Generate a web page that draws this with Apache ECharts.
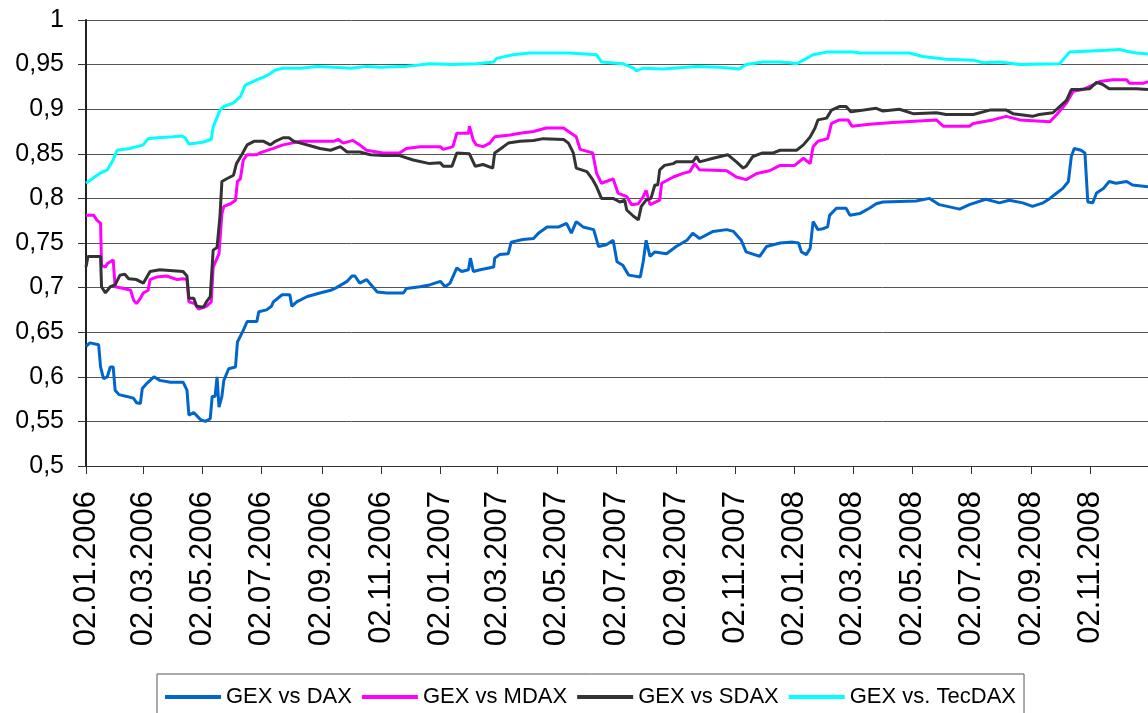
<!DOCTYPE html>
<html>
<head>
<meta charset="utf-8">
<script src="https://cdn.jsdelivr.net/npm/echarts@6/dist/echarts.min.js"></script>
<style>
html,body{margin:0;padding:0;background:#fff;}
#c{width:1148px;height:713px;}
</style>
</head>
<body>
<div id="c"></div>
<script>
// x values: calendar days since 02.01.2006
const tickDays = [0,59,120,181,243,304,365,424,485,546,608,669,730,790,851,912,974,1035];
const tickLabels = ['02.01.2006','02.03.2006','02.05.2006','02.07.2006','02.09.2006','02.11.2006',
  '02.01.2007','02.03.2007','02.05.2007','02.07.2007','02.09.2007','02.11.2007',
  '02.01.2008','02.03.2008','02.05.2008','02.07.2008','02.09.2008','02.11.2008'];
const seriesNames = ['GEX vs DAX','GEX vs MDAX','GEX vs SDAX','GEX vs. TecDAX'];

const gexDax = [[0,0.634],[4,0.638],[13,0.636],[15,0.611],[18,0.598],[22,0.600],[25,0.611],[28,0.611],[30,0.585],[34,0.580],[42,0.578],[49,0.576],[52,0.571],[56,0.570],[58,0.587],[63,0.593],[70,0.600],[76,0.596],[87,0.594],[100,0.594],[104,0.585],[106,0.557],[111,0.560],[118,0.552],[123,0.550],[128,0.553],[130,0.578],[133,0.578],[135,0.600],[137,0.566],[140,0.578],[142,0.596],[147,0.609],[154,0.611],[156,0.639],[162,0.652],[166,0.662],[176,0.662],[178,0.673],[186,0.675],[191,0.679],[193,0.684],[202,0.692],[210,0.692],[212,0.679],[217,0.684],[228,0.690],[241,0.694],[252,0.697],[258,0.700],[269,0.707],[274,0.713],[277,0.713],[282,0.705],[289,0.709],[300,0.695],[310,0.694],[327,0.694],[330,0.699],[344,0.701],[354,0.703],[365,0.707],[370,0.701],[375,0.705],[382,0.722],[387,0.718],[394,0.720],[396,0.733],[399,0.718],[406,0.720],[420,0.723],[421,0.733],[426,0.737],[435,0.738],[438,0.751],[450,0.754],[461,0.755],[466,0.761],[475,0.768],[487,0.768],[495,0.772],[500,0.761],[505,0.774],[512,0.768],[523,0.765],[528,0.746],[536,0.748],[543,0.753],[547,0.729],[553,0.725],[559,0.714],[571,0.712],[574,0.729],[577,0.753],[581,0.735],[586,0.740],[598,0.738],[608,0.746],[619,0.753],[625,0.761],[632,0.755],[646,0.763],[660,0.765],[667,0.763],[675,0.753],[680,0.740],[694,0.735],[701,0.746],[715,0.750],[728,0.751],[734,0.750],[737,0.740],[742,0.737],[746,0.744],[749,0.774],[754,0.765],[759,0.766],[764,0.768],[766,0.781],[773,0.789],[783,0.789],[787,0.781],[797,0.783],[807,0.789],[814,0.794],[821,0.796],[855,0.797],[869,0.800],[879,0.793],[900,0.788],[910,0.793],[927,0.799],[941,0.795],[951,0.798],[965,0.795],[975,0.791],[986,0.795],[993,0.800],[1000,0.806],[1006,0.811],[1012,0.819],[1015,0.847],[1018,0.856],[1025,0.854],[1029,0.851],[1032,0.796],[1037,0.795],[1041,0.806],[1048,0.811],[1054,0.819],[1061,0.817],[1072,0.819],[1078,0.815],[1094,0.813]];

const gexMdax = [[0,0.781],[8,0.781],[11,0.776],[15,0.772],[16,0.725],[20,0.723],[22,0.727],[28,0.731],[30,0.701],[39,0.699],[46,0.697],[49,0.686],[52,0.682],[56,0.688],[59,0.694],[64,0.697],[66,0.709],[73,0.712],[83,0.713],[94,0.709],[100,0.710],[104,0.709],[106,0.684],[112,0.682],[116,0.676],[124,0.679],[129,0.684],[131,0.723],[137,0.738],[140,0.783],[142,0.791],[149,0.794],[154,0.798],[156,0.819],[159,0.822],[162,0.843],[166,0.849],[176,0.849],[179,0.851],[193,0.856],[203,0.860],[221,0.864],[255,0.864],[260,0.866],[265,0.862],[275,0.865],[282,0.860],[289,0.854],[306,0.851],[323,0.851],[330,0.856],[344,0.858],[365,0.858],[368,0.855],[378,0.858],[382,0.873],[394,0.873],[395,0.881],[399,0.865],[402,0.860],[409,0.858],[416,0.862],[421,0.869],[437,0.871],[447,0.873],[461,0.875],[474,0.879],[492,0.879],[497,0.875],[505,0.869],[509,0.855],[522,0.851],[526,0.828],[531,0.817],[543,0.822],[548,0.806],[557,0.802],[562,0.793],[569,0.794],[574,0.802],[577,0.809],[581,0.793],[591,0.798],[593,0.817],[605,0.824],[615,0.828],[622,0.830],[627,0.839],[632,0.832],[660,0.831],[670,0.824],[680,0.821],[691,0.828],[704,0.831],[715,0.837],[730,0.837],[739,0.845],[746,0.839],[749,0.858],[754,0.864],[764,0.867],[768,0.884],[776,0.888],[785,0.888],[789,0.881],[807,0.883],[831,0.885],[876,0.888],[883,0.881],[910,0.881],[914,0.884],[934,0.888],[948,0.892],[962,0.888],[993,0.886],[1000,0.894],[1010,0.907],[1017,0.920],[1027,0.922],[1037,0.927],[1044,0.931],[1058,0.933],[1072,0.933],[1075,0.929],[1089,0.929],[1094,0.931]];

const gexSdax = [[0,0.723],[2,0.735],[15,0.735],[16,0.701],[20,0.694],[25,0.701],[30,0.703],[35,0.714],[40,0.715],[44,0.710],[52,0.709],[59,0.705],[66,0.718],[76,0.720],[100,0.718],[104,0.713],[106,0.688],[111,0.688],[114,0.679],[121,0.678],[124,0.684],[128,0.690],[131,0.742],[135,0.745],[138,0.780],[140,0.819],[145,0.822],[152,0.826],[155,0.839],[161,0.850],[166,0.860],[173,0.864],[183,0.864],[190,0.860],[195,0.864],[203,0.868],[209,0.868],[214,0.864],[221,0.862],[231,0.859],[241,0.856],[252,0.854],[262,0.858],[269,0.852],[282,0.852],[293,0.849],[306,0.848],[323,0.848],[337,0.843],[354,0.839],[365,0.840],[368,0.836],[377,0.836],[382,0.851],[395,0.850],[401,0.836],[409,0.838],[419,0.834],[421,0.851],[430,0.858],[435,0.862],[447,0.864],[461,0.865],[471,0.867],[492,0.866],[497,0.862],[502,0.851],[505,0.834],[516,0.830],[522,0.821],[526,0.813],[531,0.800],[543,0.800],[550,0.796],[555,0.798],[557,0.787],[564,0.780],[569,0.776],[572,0.791],[577,0.798],[582,0.800],[586,0.815],[589,0.815],[591,0.832],[596,0.837],[605,0.839],[608,0.841],[625,0.841],[629,0.847],[632,0.841],[646,0.845],[661,0.849],[670,0.841],[677,0.834],[680,0.836],[687,0.847],[697,0.851],[708,0.851],[715,0.854],[722,0.854],[732,0.854],[739,0.860],[746,0.869],[751,0.879],[754,0.888],[763,0.890],[768,0.899],[776,0.903],[783,0.903],[788,0.897],[814,0.901],[821,0.898],[838,0.900],[852,0.895],[876,0.896],[886,0.894],[914,0.894],[931,0.899],[948,0.899],[955,0.895],[975,0.892],[982,0.894],[996,0.896],[1003,0.903],[1010,0.910],[1015,0.922],[1023,0.922],[1034,0.923],[1041,0.930],[1047,0.928],[1054,0.923],[1072,0.923],[1082,0.923],[1094,0.922]];

const gexTecdax = [[0,0.817],[14,0.828],[22,0.832],[28,0.843],[32,0.854],[45,0.856],[59,0.860],[64,0.867],[73,0.868],[90,0.869],[99,0.870],[102,0.868],[106,0.861],[120,0.863],[129,0.866],[131,0.880],[134,0.888],[138,0.899],[142,0.903],[152,0.907],[159,0.914],[164,0.927],[176,0.933],[183,0.936],[190,0.940],[195,0.944],[203,0.946],[221,0.946],[238,0.948],[255,0.947],[273,0.946],[289,0.948],[304,0.947],[323,0.948],[330,0.948],[354,0.951],[378,0.950],[402,0.951],[420,0.953],[423,0.957],[440,0.961],[457,0.963],[498,0.963],[526,0.961],[531,0.953],[553,0.951],[564,0.946],[567,0.943],[574,0.946],[594,0.945],[629,0.948],[653,0.947],[673,0.945],[680,0.950],[697,0.953],[714,0.953],[725,0.952],[732,0.951],[739,0.955],[749,0.961],[763,0.964],[790,0.964],[797,0.963],[848,0.963],[862,0.959],[886,0.956],[914,0.955],[924,0.952],[941,0.953],[962,0.950],[1003,0.951],[1013,0.964],[1051,0.966],[1065,0.967],[1072,0.965],[1082,0.963],[1094,0.962]];

const seriesData = [gexDax, gexMdax, gexSdax, gexTecdax];
const seriesColors = ['#0066CC', '#FF00FF', '#333333', '#00FFFF'];

const chart = echarts.init(document.getElementById('c'), null, {renderer: 'canvas'});
const FONT = '"Liberation Sans", Arial, sans-serif';

chart.setOption({
  animation: false,
  backgroundColor: '#ffffff',
  grid: {left: 86, right: 0, top: 20, bottom: 247, containLabel: false},
  legend: {
    data: seriesNames,
    left: 157, top: 674,
    padding: [12, 8, 12, 8],
    borderColor: '#555555', borderWidth: 1,
    itemWidth: 56, itemHeight: 4, itemGap: 10,
    icon: 'rect',
    textStyle: {fontFamily: FONT, fontSize: 22, color: '#000'}
  },
  xAxis: {
    type: 'value', min: 0, max: 1094,
    axisLine: {show: true, lineStyle: {color: '#333', width: 1}},
    axisTick: {show: true, length: 8, lineStyle: {color: '#333'}, customValues: tickDays},
    axisLabel: {
      customValues: tickDays, rotate: 90, margin: 25,
      fontFamily: FONT, fontSize: 31, color: '#000',
      formatter: function (v) { const i = tickDays.indexOf(Math.round(v)); return i >= 0 ? tickLabels[i] : ''; }
    },
    splitLine: {show: false}
  },
  yAxis: {
    type: 'value', min: 0.5, max: 1, interval: 0.05,
    axisLine: {show: true, lineStyle: {color: '#222', width: 2}},
    axisTick: {show: true, length: 8, lineStyle: {color: '#333'}},
    axisLabel: {
      margin: 22, fontFamily: FONT, fontSize: 25, color: '#000',
      formatter: function (v) { return String(Math.round(v * 100) / 100).replace('.', ','); }
    },
    splitLine: {show: true, lineStyle: {color: '#555', width: 1}}
  },
  series: seriesNames.map(function (name, i) {
    return {
      name: name, type: 'line', data: seriesData[i],
      showSymbol: false, symbol: 'none',
      color: seriesColors[i],
      lineStyle: {width: 3, color: seriesColors[i]},
      itemStyle: {color: seriesColors[i]}
    };
  })
});
</script>
</body>
</html>
